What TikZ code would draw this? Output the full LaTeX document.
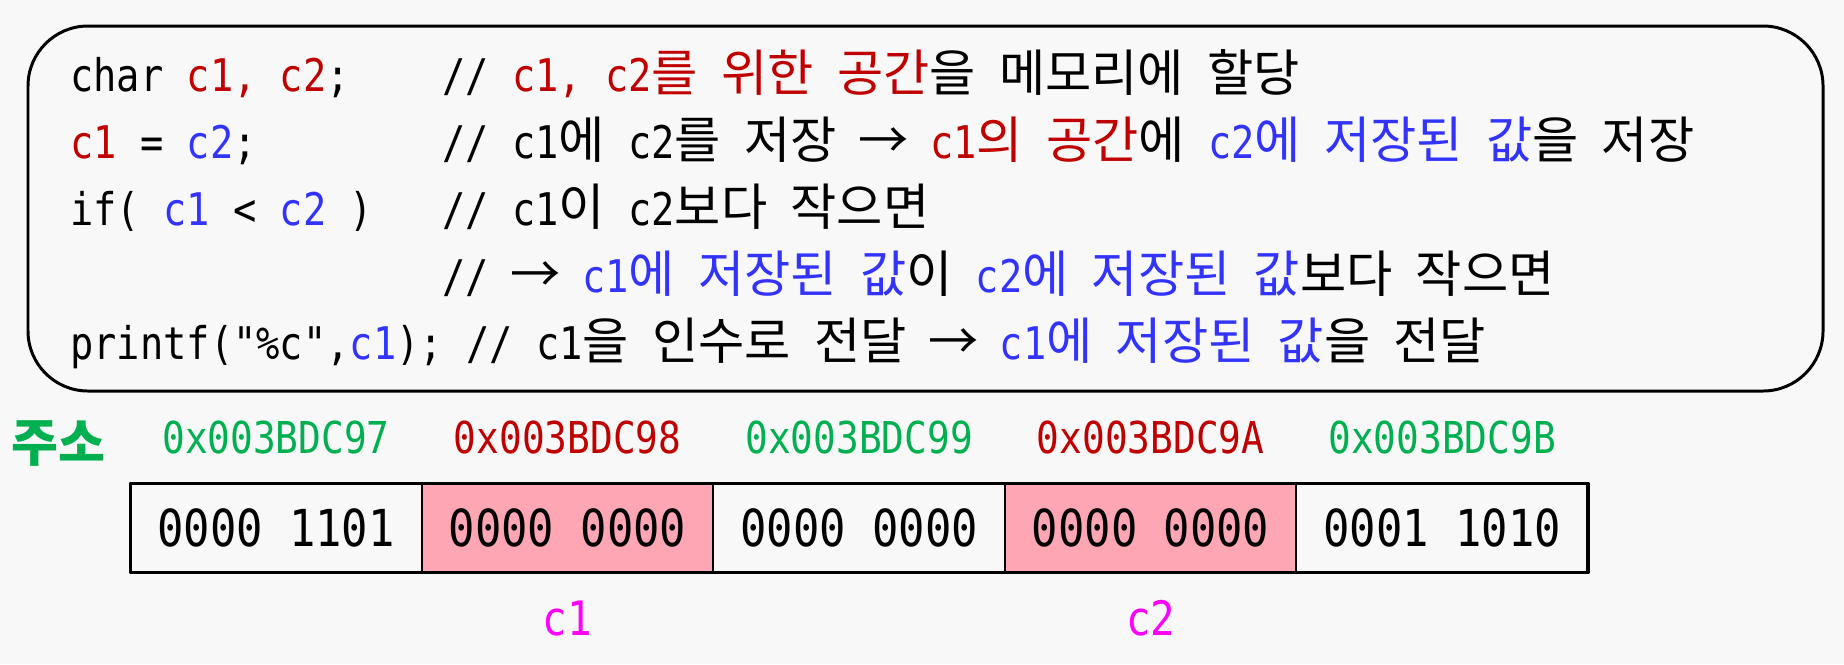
\documentclass[tikz,border=0pt]{standalone}
\usepackage{fontspec}
\usepackage{tikz}
\usetikzlibrary{positioning}
\setmonofont{DejaVu Sans Mono}[FakeStretch=0.86]
\newfontfamily\krfont{Noto Sans CJK KR}
\newcommand{\hg}[1]{{\krfont\fontsize{28.6pt}{30pt}\selectfont #1}}
\newcommand{\arr}{\makebox[26.5pt]{\hg{→}}}
\definecolor{varred}{RGB}{192,0,0}
\definecolor{varblue}{RGB}{51,51,255}
\definecolor{addrgreen}{RGB}{0,176,80}
\definecolor{labelmag}{RGB}{255,0,255}
\definecolor{cellpink}{RGB}{255,166,180}
\definecolor{paper}{RGB}{248,248,248}
\newcommand{\rd}[1]{\textcolor{varred}{#1}}
\newcommand{\bl}[1]{\textcolor{varblue}{#1}}
\tikzset{
  codeline/.style={anchor=base west,inner sep=0pt,font=\ttfamily\fontsize{25.6pt}{30pt}\selectfont},
  memcell/.style={draw=black,line width=1.2pt,outer sep=0pt,inner sep=0pt,
    minimum width=5.832cm,minimum height=1.78cm,font=\ttfamily\fontsize{29pt}{32pt}\selectfont},
  addr/.style={anchor=base,inner sep=0pt,font=\ttfamily\fontsize{25pt}{30pt}\selectfont},
  varlabel/.style={anchor=base,inner sep=0pt,text=labelmag,font=\ttfamily\fontsize{27pt}{30pt}\selectfont}
}

\begin{document}
\begin{tikzpicture}[x=0.02cm,y=-0.02cm,line cap=round,line join=round]
\fill[paper] (0,0) rectangle (1844,664);
\useasboundingbox (0,0) rectangle (1844,664);
% code box
\draw[line width=1.7pt,rounded corners=1.2cm] (28,26) rectangle (1823,391);
\node[codeline] (code1) at (70,91) {char \rd{c1, c2};};
\node[codeline] (cmt1) at (442,91) {// \rd{c1, c2\hg{를} \hg{위한} \hg{공간}}\hg{을} \hg{메모리에} \hg{할당}};
\node[codeline] (code2) at (70,158) {\rd{c1} = \bl{c2};};
\node[codeline] (cmt2) at (442,158) {// c1\hg{에} c2\hg{를} \hg{저장} \arr{} \rd{c1\hg{의} \hg{공간}}\hg{에} \bl{c2\hg{에} \hg{저장된} \hg{값}}\hg{을} \hg{저장}};
\node[codeline] (code3) at (70,225) {if( \bl{c1} < \bl{c2} )};
\node[codeline] (cmt3) at (442,225) {// c1\hg{이} c2\hg{보다} \hg{작으면}};
\node[codeline] (cmt4) at (442,292) {// \arr{} \bl{c1\hg{에} \hg{저장된} \hg{값}}\hg{이} \bl{c2\hg{에} \hg{저장된} \hg{값}}\hg{보다} \hg{작으면}};
\node[codeline] (code5) at (70,359) {printf("\%c",\bl{c1}); // c1\hg{을} \hg{인수로} \hg{전달} \arr{} \bl{c1\hg{에} \hg{저장된} \hg{값}}\hg{을} \hg{전달}};
% memory
\node[text=addrgreen,inner sep=0pt,font=\krfont\bfseries\fontsize{29pt}{32pt}\selectfont] (juso) at (58,444) {주소};
\node[memcell] (m1) at (276,528) {0000 1101};
\node[memcell,fill=cellpink,right=0pt of m1] (m2) {0000 0000};
\node[memcell,right=0pt of m2] (m3) {0000 0000};
\node[memcell,fill=cellpink,right=0pt of m3] (m4) {0000 0000};
\node[memcell,right=0pt of m4] (m5) {0001 1010};
\draw[line width=1.8pt] (m1.south west) rectangle (m5.north east);
\node[addr,text=addrgreen] (a1) at ([yshift=0.6cm]m1.north) {0x003BDC97};
\node[addr,text=varred] (a2) at ([yshift=0.6cm]m2.north) {0x003BDC98};
\node[addr,text=addrgreen] (a3) at ([yshift=0.6cm]m3.north) {0x003BDC99};
\node[addr,text=varred] (a4) at ([yshift=0.6cm]m4.north) {0x003BDC9A};
\node[addr,text=addrgreen] (a5) at ([yshift=0.6cm]m5.north) {0x003BDC9B};
\node[varlabel] (lc1) at ([yshift=-1.26cm]m2.south) {c1};
\node[varlabel] (lc2) at ([yshift=-1.26cm]m4.south) {c2};
\end{tikzpicture}
\end{document}
